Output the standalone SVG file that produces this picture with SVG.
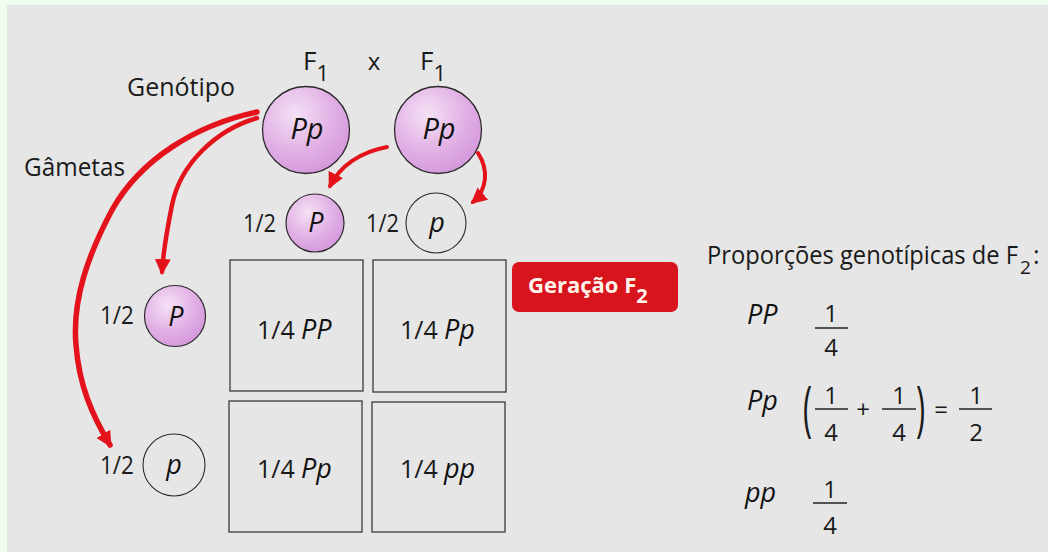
<svg xmlns="http://www.w3.org/2000/svg" width="1048" height="552" viewBox="0 0 1048 552">
  <defs>
    <radialGradient id="pink" cx="0.38" cy="0.32" r="0.75">
      <stop offset="0" stop-color="#f4e2f4"/>
      <stop offset="0.55" stop-color="#e2b2e6"/>
      <stop offset="1" stop-color="#d394da"/>
    </radialGradient>
    <marker id="head" markerUnits="userSpaceOnUse" markerWidth="20" markerHeight="20" refX="13" refY="8" orient="auto">
      <path d="M0,0 L16,8 L0,16 Z" fill="#e3121b"/>
    </marker>
    <style>
      .t { font-family: "Open Sans", "Noto Sans", sans-serif; fill: #1a1a1a; }
      .i { font-family: "Open Sans", "Noto Sans", sans-serif; font-style: italic; fill: #111; }
      .lab { font-size: 26px; }
      .num { font-size: 25px; }
      .fr { font-size: 24px; }
      .big { fill: url(#pink); stroke: #2b2b2b; stroke-width: 1.3; }
      .gp { fill: url(#pink); stroke: #2b2b2b; stroke-width: 1.2; }
      .gw { fill: none; stroke: #2b2b2b; stroke-width: 1.1; }
      .cell { fill: none; stroke: #3a3a3a; stroke-width: 1.3; }
      .arr { fill: none; stroke: #e3121b; stroke-linecap: round; marker-end: url(#head); }
      .bar { stroke: #222; stroke-width: 1.4; }
    </style>
  </defs>

  <!-- page background and panel -->
  <rect x="0" y="0" width="1048" height="552" fill="#eefdee"/>
  <rect x="7" y="5" width="1041" height="547" fill="#e6e6e6"/>

  <!-- side labels -->
  <text class="t lab" x="127" y="96" textLength="108" lengthAdjust="spacingAndGlyphs">Genótipo</text>
  <text class="t lab" x="24" y="176" textLength="101" lengthAdjust="spacingAndGlyphs">Gâmetas</text>

  <!-- cross header -->
  <g id="cross-header">
    <text class="t" x="303" y="70" font-size="26">F<tspan dy="11" font-size="22">1</tspan></text>
    <text class="t" x="374" y="70" font-size="24" text-anchor="middle">x</text>
    <text class="t" x="420" y="70" font-size="26">F<tspan dy="11" font-size="22">1</tspan></text>
  </g>

  <!-- parents -->
  <g id="parent-left">
    <circle class="big" cx="306" cy="130" r="43.5"/>
    <text class="i" x="307" y="139" font-size="29" text-anchor="middle">Pp</text>
  </g>
  <g id="parent-right">
    <circle class="big" cx="438" cy="130" r="43.5"/>
    <text class="i" x="439" y="139" font-size="29" text-anchor="middle">Pp</text>
  </g>

  <!-- gametes of the right parent (columns) -->
  <g id="gamete-col-P">
    <text class="t num" x="243" y="232" textLength="33" lengthAdjust="spacingAndGlyphs">1/2</text>
    <circle class="gp" cx="315" cy="223" r="29"/>
    <text class="i" x="316" y="232" font-size="27" text-anchor="middle">P</text>
  </g>
  <g id="gamete-col-p">
    <text class="t num" x="366" y="232" textLength="33" lengthAdjust="spacingAndGlyphs">1/2</text>
    <circle class="gw" cx="436" cy="223" r="30"/>
    <text class="i" x="437" y="232" font-size="27" text-anchor="middle">p</text>
  </g>

  <!-- gametes of the left parent (rows) -->
  <g id="gamete-row-P">
    <text class="t num" x="100" y="324" textLength="34" lengthAdjust="spacingAndGlyphs">1/2</text>
    <circle class="gp" cx="175" cy="316" r="30.5"/>
    <text class="i" x="176" y="326" font-size="27" text-anchor="middle">P</text>
  </g>
  <g id="gamete-row-p">
    <text class="t num" x="100" y="474" textLength="34" lengthAdjust="spacingAndGlyphs">1/2</text>
    <circle class="gw" cx="174" cy="465" r="31"/>
    <text class="i" x="174" y="474" font-size="27" text-anchor="middle">p</text>
  </g>

  <!-- Punnett square -->
  <g id="cell-PP">
    <rect class="cell" x="230" y="260" width="133" height="131"/>
    <text class="t num" x="257" y="339">1/4</text>
    <text class="i" x="301" y="339" font-size="27">PP</text>
  </g>
  <g id="cell-Pp-top">
    <rect class="cell" x="373" y="260" width="133" height="132"/>
    <text class="t num" x="400" y="339">1/4</text>
    <text class="i" x="444" y="339" font-size="27">Pp</text>
  </g>
  <g id="cell-Pp-bottom">
    <rect class="cell" x="229" y="401" width="133" height="131"/>
    <text class="t num" x="257" y="478">1/4</text>
    <text class="i" x="301" y="478" font-size="27">Pp</text>
  </g>
  <g id="cell-pp">
    <rect class="cell" x="372" y="402" width="133" height="130"/>
    <text class="t num" x="400" y="478">1/4</text>
    <text class="i" x="444" y="478" font-size="27">pp</text>
  </g>

  <!-- generation badge -->
  <g id="badge-F2">
    <rect x="512" y="262" width="166" height="50" rx="7" fill="#d8141d"/>
    <text x="528" y="293" font-family="'Open Sans', 'Noto Sans', sans-serif" font-weight="bold" font-size="22" fill="#fff4ec">Geração F<tspan dy="10" font-size="20">2</tspan></text>
  </g>

  <!-- genotype proportions -->
  <g id="proportions">
    <text class="t" x="707" y="264" font-size="25"><tspan textLength="311" lengthAdjust="spacingAndGlyphs">Proporções genotípicas de F</tspan><tspan dx="2" dy="10" font-size="19">2</tspan><tspan dx="2" dy="-10">:</tspan></text>

    <!-- PP -->
    <text class="i" x="747" y="324" font-size="27">PP</text>
    <text class="t fr" x="831" y="322" text-anchor="middle">1</text>
    <line class="bar" x1="815" y1="328" x2="848" y2="328"/>
    <text class="t fr" x="831" y="356" text-anchor="middle">4</text>

    <!-- Pp -->
    <text class="i" x="747" y="410" font-size="27">Pp</text>
    <text class="t" font-size="28" transform="translate(803,429) scale(1.1,2.15)">(</text>
    <text class="t fr" x="831" y="404" text-anchor="middle">1</text>
    <line class="bar" x1="815" y1="409" x2="848" y2="409"/>
    <text class="t fr" x="831" y="441" text-anchor="middle">4</text>
    <text class="t" x="863" y="418" font-size="24" text-anchor="middle">+</text>
    <text class="t fr" x="899" y="404" text-anchor="middle">1</text>
    <line class="bar" x1="882" y1="409" x2="916" y2="409"/>
    <text class="t fr" x="899" y="441" text-anchor="middle">4</text>
    <text class="t" font-size="28" text-anchor="end" transform="translate(925,429) scale(1.1,2.15)">)</text>
    <text class="t" x="941" y="418" font-size="24" text-anchor="middle">=</text>
    <text class="t fr" x="976" y="404" text-anchor="middle">1</text>
    <line class="bar" x1="959" y1="409" x2="992" y2="409"/>
    <text class="t fr" x="976" y="441" text-anchor="middle">2</text>

    <!-- pp -->
    <text class="i" x="745" y="502" font-size="27">pp</text>
    <text class="t fr" x="830" y="498" text-anchor="middle">1</text>
    <line class="bar" x1="813" y1="503" x2="847" y2="503"/>
    <text class="t fr" x="830" y="534" text-anchor="middle">4</text>
  </g>

  <!-- gamete arrows -->
  <g id="connectors">
    <path class="arr" stroke-width="5.5" d="M257,112 C195,125 140,160 112,210 C88,255 72,300 76,345 C79,385 92,415 110,445"/>
    <path class="arr" stroke-width="4.5" d="M257,118 C215,130 180,165 172,205 C166,235 163,255 162,272"/>
    <path class="arr" stroke-width="4" d="M387,147 C360,152 340,166 330,186"/>
    <path class="arr" stroke-width="4" d="M478,153 C489,170 487,190 473,202"/>
  </g>
</svg>
